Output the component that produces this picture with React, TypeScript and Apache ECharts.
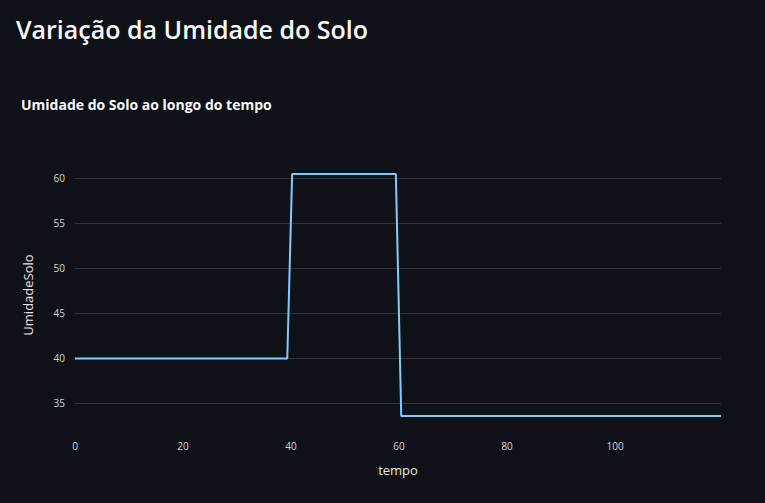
import React, { useEffect, useRef } from "react";
import * as echarts from "echarts";

const tempo = [0, 39.3, 40.2, 59.4, 60.4, 119.6];
const umidadeSolo = [40, 40, 60.5, 60.5, 33.6, 33.6];
const yTicks = [35, 40, 45, 50, 55, 60];
const xTicks = [0, 20, 40, 60, 80, 100];

const pageTitle = "Variação da Umidade do Solo";
const chartTitle = "Umidade do Solo ao longo do tempo";

export default function App() {
  const ref = useRef<HTMLDivElement>(null);
  useEffect(() => {
    document.body.style.margin = "0";
    document.body.style.background = "#0e1117";
    const chart = echarts.init(ref.current!, undefined, { renderer: "svg" });
    const font = "'Open Sans', 'Noto Sans', sans-serif";
    chart.setOption({
      animation: false,
      backgroundColor: "#0e1117",
      title: [
        {
          text: pageTitle,
          left: 11,
          top: 11,
          textStyle: { color: "#fafafa", fontSize: 25, fontWeight: 600, fontFamily: font },
        },
        {
          text: chartTitle,
          left: 16,
          top: 92,
          textStyle: { color: "#fafafa", fontSize: 14, fontWeight: 700, fontFamily: font },
        },
      ],
      grid: { left: 75, right: 44, top: 174, bottom: 87 },
      xAxis: {
        type: "value",
        min: 0,
        max: 119.6,
        name: "tempo",
        nameLocation: "middle",
        nameGap: 47,
        nameTextStyle: { color: "#e6e6e6", fontSize: 13, fontFamily: font },
        axisLine: { show: false },
        axisTick: { show: false, customValues: xTicks },
        splitLine: { show: false },
        axisLabel: {
          customValues: xTicks,
          color: "#d6d7da",
          fontSize: 10,
          margin: 25,
          fontFamily: font,
        },
      },
      yAxis: {
        type: "value",
        min: 33.6,
        max: 60.5,
        name: "UmidadeSolo",
        nameLocation: "middle",
        nameGap: 41,
        nameTextStyle: { color: "#e6e6e6", fontSize: 13, fontFamily: font },
        axisLine: { show: false },
        axisTick: { show: false, customValues: yTicks },
        splitLine: { show: true, lineStyle: { color: "#30333a", width: 1 } },
        axisLabel: {
          customValues: yTicks,
          color: "#d6d7da",
          fontSize: 10,
          margin: 10,
          fontFamily: font,
        },
      },
      series: [
        {
          type: "line",
          data: tempo.map((t, i) => [t, umidadeSolo[i]]),
          showSymbol: false,
          clip: false,
          lineStyle: { color: "#83c9ff", width: 2 },
          itemStyle: { color: "#83c9ff" },
        },
      ],
    });
    return () => chart.dispose();
  }, []);
  return (
    <div
      ref={ref}
      style={{ position: "absolute", left: 0, top: 0, width: 765, height: 503 }}
    />
  );
}
